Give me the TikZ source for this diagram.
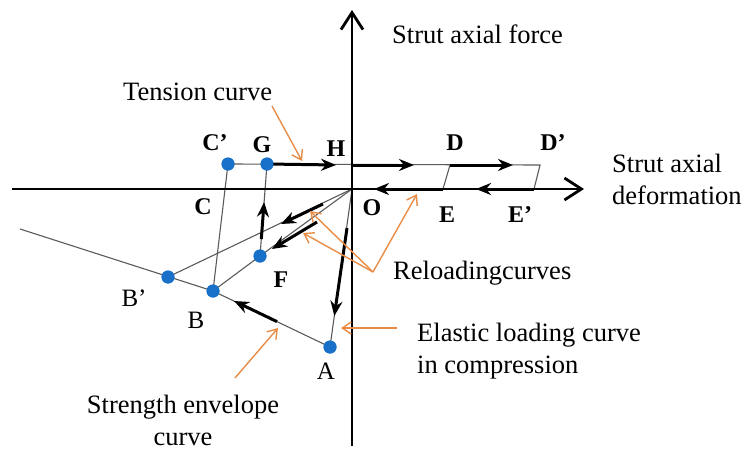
\documentclass[tikz,border=0pt]{standalone}
\usepackage{fontspec}
\setmainfont{Liberation Serif}
\usetikzlibrary{arrows.meta}
\definecolor{orng}{RGB}{233,140,70}
\definecolor{dotblue}{RGB}{24,112,200}
\definecolor{thingray}{RGB}{90,90,90}
\begin{document}
\begin{tikzpicture}[x=1pt,y=-1pt,
  dotnode/.style={circle,fill=dotblue,inner sep=0pt,minimum size=13pt},
  thinline/.style={draw=thingray,line width=1.1pt},
  thickarrow/.style={line width=3pt,-{Stealth[length=15pt,width=12pt]}},
  axisline/.style={line width=2.8pt,-{Straight Barb[length=17pt,width=22pt]}},
  callout/.style={draw=orng,line width=1.4pt,-{Straight Barb[length=9pt,width=12pt]}},
  ptlabel/.style={font=\fontsize{24}{28}\selectfont\bfseries,inner sep=0pt},
  ptlabelr/.style={font=\fontsize{25}{28}\selectfont,inner sep=0pt},
  txt/.style={font=\fontsize{26.5}{32}\selectfont,inner sep=0pt},
]
\useasboundingbox (0,0) rectangle (747,450);

% key coordinates
\coordinate (O) at (352,189);
\coordinate (ytip) at (352,10);
\coordinate (ybot) at (352,446);
\coordinate (xtip) at (584,189);
\coordinate (xleft) at (12,189);
\coordinate (envL) at (20,229);
\coordinate (D) at (450,165);
\coordinate (Dp) at (540,165);
\coordinate (E) at (443,189);
\coordinate (Ep) at (534,189);

% points
\node[dotnode] (Cp) at (228,164) {};
\node[dotnode] (G) at (267,164) {};
\node[dotnode] (F) at (260,256) {};
\node[dotnode] (Bp) at (168,277) {};
\node[dotnode] (B) at (213,291) {};
\node[dotnode] (A) at (330,347) {};

% thin curves
\draw[thinline] (envL) -- (B.center) -- (A.center) -- (O);
\draw[thinline] (Bp.center) -- (O);
\draw[thinline] (B.center) -- (F.center) -- (O);
\draw[thinline] (Cp.center) -- (B.center);
\draw[thinline] (G.center) -- (F.center);
\draw[thinline] (Cp.center) -- (Dp) -- (Ep);
\draw[thinline] (D) -- (E);

% axes
\draw[axisline] (ybot) -- (ytip);
\draw[axisline] (xleft) -- (xtip);

% thick path arrows
\draw[thickarrow] (G.center) -- (336,165);
\draw[thickarrow] (352,165) -- (414,165);
\draw[thickarrow] (D) -- (513,165);
\draw[thickarrow] (Ep) -- (476,189);
\draw[thickarrow] (E) -- (374,189);
\draw[thickarrow] (323,204) -- (281,224);
\draw[thickarrow] (317,222) -- (272,249);
\draw[thickarrow] (261.3,239) -- (264.1,202);
\draw[thickarrow] (347,228) -- (334.3,316);
\draw[thickarrow] (277,321.6) -- (234,301);

% dots on top
\foreach \p in {Cp,G,F,Bp,B,A} \fill[dotblue] (\p.center) circle (6.5pt);

% point labels
\node[ptlabel] (lCp) at (215,143) {C’};
\node[ptlabel] (lG) at (262,145) {G};
\node[ptlabel] (lH) at (336,149) {H};
\node[ptlabel] (lD) at (455,143) {D};
\node[ptlabel] (lDp) at (553,143) {D’};
\node[ptlabel] (lC) at (203,207) {C};
\node[ptlabel] (lO) at (372,208) {O};
\node[ptlabel] (lE) at (447,215) {E};
\node[ptlabel] (lEp) at (520,215) {E’};
\node[ptlabel] (lF) at (281,280) {F};
\node[ptlabelr] (lB) at (196,320) {B};
\node[ptlabelr] (lBp) at (134,298) {B’};
\node[ptlabelr] (lA) at (326,371) {A};

% text
\node[txt,anchor=base west] (tforce) at (392,43) {Strut axial force};
\node[txt,anchor=north west,align=left] (tdef) at (612,154) {Strut axial\\deformation};
\node[txt,anchor=base west] (ttens) at (123,100) {Tension curve};
\node[txt,anchor=base west] (trel) at (393,279) {Reloadingcurves};
\node[txt,anchor=north west,align=left] (tel) at (417,323) {Elastic loading curve\\in compression};
\node[txt,anchor=north,align=center] (tenv) at (183,395) {Strength envelope\\curve};

% callouts
\coordinate (tcS) at (272,106);
\coordinate (hub) at (373,272);
\coordinate (elS) at (397,328);
\coordinate (enS) at (235,378);
\draw[callout] (tcS) -- (302,161);
\draw[callout] (hub) -- (310,211);
\draw[callout] (hub) -- (303,233);
\draw[callout] (hub) -- (417,194);
\draw[callout] (elS) -- (341,328);
\draw[callout] (enS) -- (278,328);
\end{tikzpicture}
\end{document}
